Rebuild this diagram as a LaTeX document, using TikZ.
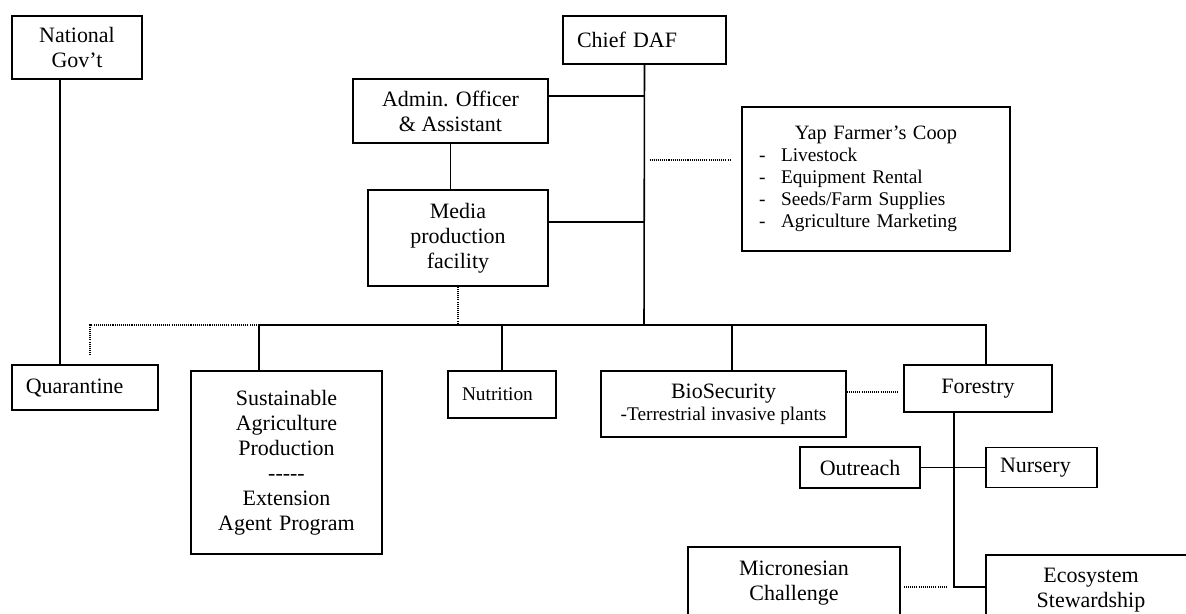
\documentclass[tikz,border=0pt]{standalone}
\usepackage{fontspec}
\setmainfont{Liberation Serif}
\usepackage{xcolor}

\tikzset{
  unitbox/.style={draw, line width=0.9pt, inner sep=0pt, font=\fontsize{12.5}{14.2}\selectfont},
  leftbox/.style={unitbox, align=left, inner xsep=0.28cm},
  smalltext/.style={font=\fontsize{11}{12.5}\selectfont},
  link/.style={line width=0.9pt},
  dotlink/.style={line width=0.7pt, dash pattern=on 0.6pt off 0.6pt}
}

\begin{document}
\begin{tikzpicture}[x=0.02cm, y=-0.02cm]
      % \draw[help lines, gray!50, very thin] (0,0) grid[step=50] (1186,613);
      \useasboundingbox (0,0) rectangle (1186,613);
      \clip (0,0) rectangle (1186,613);

      \node[unitbox, minimum width=2.6cm, minimum height=1.26cm, align=center] (natgov) at (77,47.5) {National\\Gov’t};
      \node[leftbox, minimum width=3.26cm, minimum height=0.96cm, text width=2.7cm] (chief) at (644.5,40) {Chief DAF};
      \node[unitbox, minimum width=3.9cm, minimum height=1.28cm, align=center] (admin) at (450.5,111) {Admin. Officer\\\& Assistant};
      \node[unitbox, minimum width=3.6cm, minimum height=1.92cm, align=center] (media) at (458,238) {Media\\production\\facility};
      \node[unitbox, smalltext, minimum width=5.36cm, minimum height=2.88cm, text width=4.68cm, align=left, inner xsep=0.34cm] (yap) at (876,179)
        {\makebox[4.68cm][c]{\fontsize{11.6}{12.5}\selectfont Yap Farmer’s Coop}\\
         \makebox[0.44cm][l]{-}Livestock\\
         \makebox[0.44cm][l]{-}Equipment Rental\\
         \makebox[0.44cm][l]{-}Seeds/Farm Supplies\\
         \makebox[0.44cm][l]{-}Agriculture Marketing\par\vspace{0.24cm}};

      \node[leftbox, minimum width=2.93cm, minimum height=0.9cm, text width=2.37cm] (quarantine) at (85,387.5) {Quarantine};
      \node[unitbox, minimum width=3.82cm, minimum height=3.66cm, text width=3.5cm, align=center] (sustain) at (286.5,462.5)
        {Sustainable\\Agriculture\\Production\\-{}-{}-{}-{}-\\Extension\\Agent Program\par\vspace{0.28cm}};
      \node[leftbox, smalltext, minimum width=2.16cm, minimum height=0.94cm, text width=1.6cm] (nutrition) at (502,394.5) {Nutrition\par\vspace{0.18cm}};
      \node[unitbox, smalltext, minimum width=4.9cm, minimum height=1.32cm, align=center] (bio) at (723.5,404)
        {{\fontsize{12.5}{12.5}\selectfont BioSecurity}\\-Terrestrial invasive plants};
      \node[unitbox, minimum width=2.96cm, minimum height=0.94cm, align=center] (forestry) at (978,388.5) {Forestry};
      \node[unitbox, minimum width=2.4cm, minimum height=0.82cm, align=center] (outreach) at (860,467.5) {Outreach};
      \node[leftbox, minimum width=2.22cm, minimum height=0.8cm, text width=1.66cm] (nursery) at (1041.5,467.5) {Nursery};
      \node[unitbox, minimum width=4.24cm, minimum height=1.44cm, align=center] (micro) at (794,583) {Micronesian\\Challenge};
      \node[unitbox, minimum width=4.2cm, minimum height=1.4cm, align=center] (eco) at (1091,590) {Ecosystem\\Stewardship};

      % top part
      \coordinate (bus) at (644,325);
      \coordinate (adminjoin) at ([yshift=0.3cm]admin.east);
      \coordinate (mediajoin) at ([yshift=0.32cm]media.east);
      \coordinate (yapjoin) at ([yshift=0.38cm]yap.west);
      \draw[link] (chief.south) -- (bus);
      \draw[link] (adminjoin) -- (adminjoin -| chief.south);
      \draw[link] (mediajoin) -- (mediajoin -| chief.south);
      \draw[link] (admin.south) -- (admin.south |- media.north);
      \draw[dotlink, shorten <=0.1cm, shorten >=0.22cm] (yapjoin -| chief.south) -- (yapjoin);

      % branches
      \coordinate (sdrop) at ([xshift=-0.55cm]sustain.north);
      \coordinate (fdrop) at ([xshift=0.16cm]forestry.north);
      \coordinate (bdrop) at ([xshift=0.17cm]bio.north);
      \coordinate (qdot) at ([xshift=0.1cm, yshift=0.2cm]quarantine.north);
      \draw[link] (sdrop) |- (bus) -| (fdrop);
      \draw[link] (nutrition.north) -- (nutrition.north |- bus);
      \draw[link] (bdrop) -- (bdrop |- bus);
      \draw[dotlink] (media.south) -- (media.south |- bus);
      \draw[dotlink] (sdrop |- bus) -| (qdot);
      \draw[link] ([xshift=-0.34cm]natgov.south) -- ([xshift=-0.34cm]natgov.south |- quarantine.north);

      % forestry
      \coordinate (bfjoin) at ([yshift=0.24cm]bio.east);
      \coordinate (fstem) at ([xshift=-0.48cm]forestry.south);
      \coordinate (ecojoin) at ([yshift=0.06cm]eco.west);
      \draw[dotlink, shorten >=0.1cm] (bfjoin) -- (bfjoin -| forestry.west);
      \draw[link] (fstem) |- (ecojoin);
      \draw[link] (outreach.east) -- (nursery.west);
      \draw[dotlink, shorten <=0.06cm, shorten >=0.12cm] (ecojoin -| micro.east) -- (ecojoin -| fstem);
\end{tikzpicture}
\end{document}
